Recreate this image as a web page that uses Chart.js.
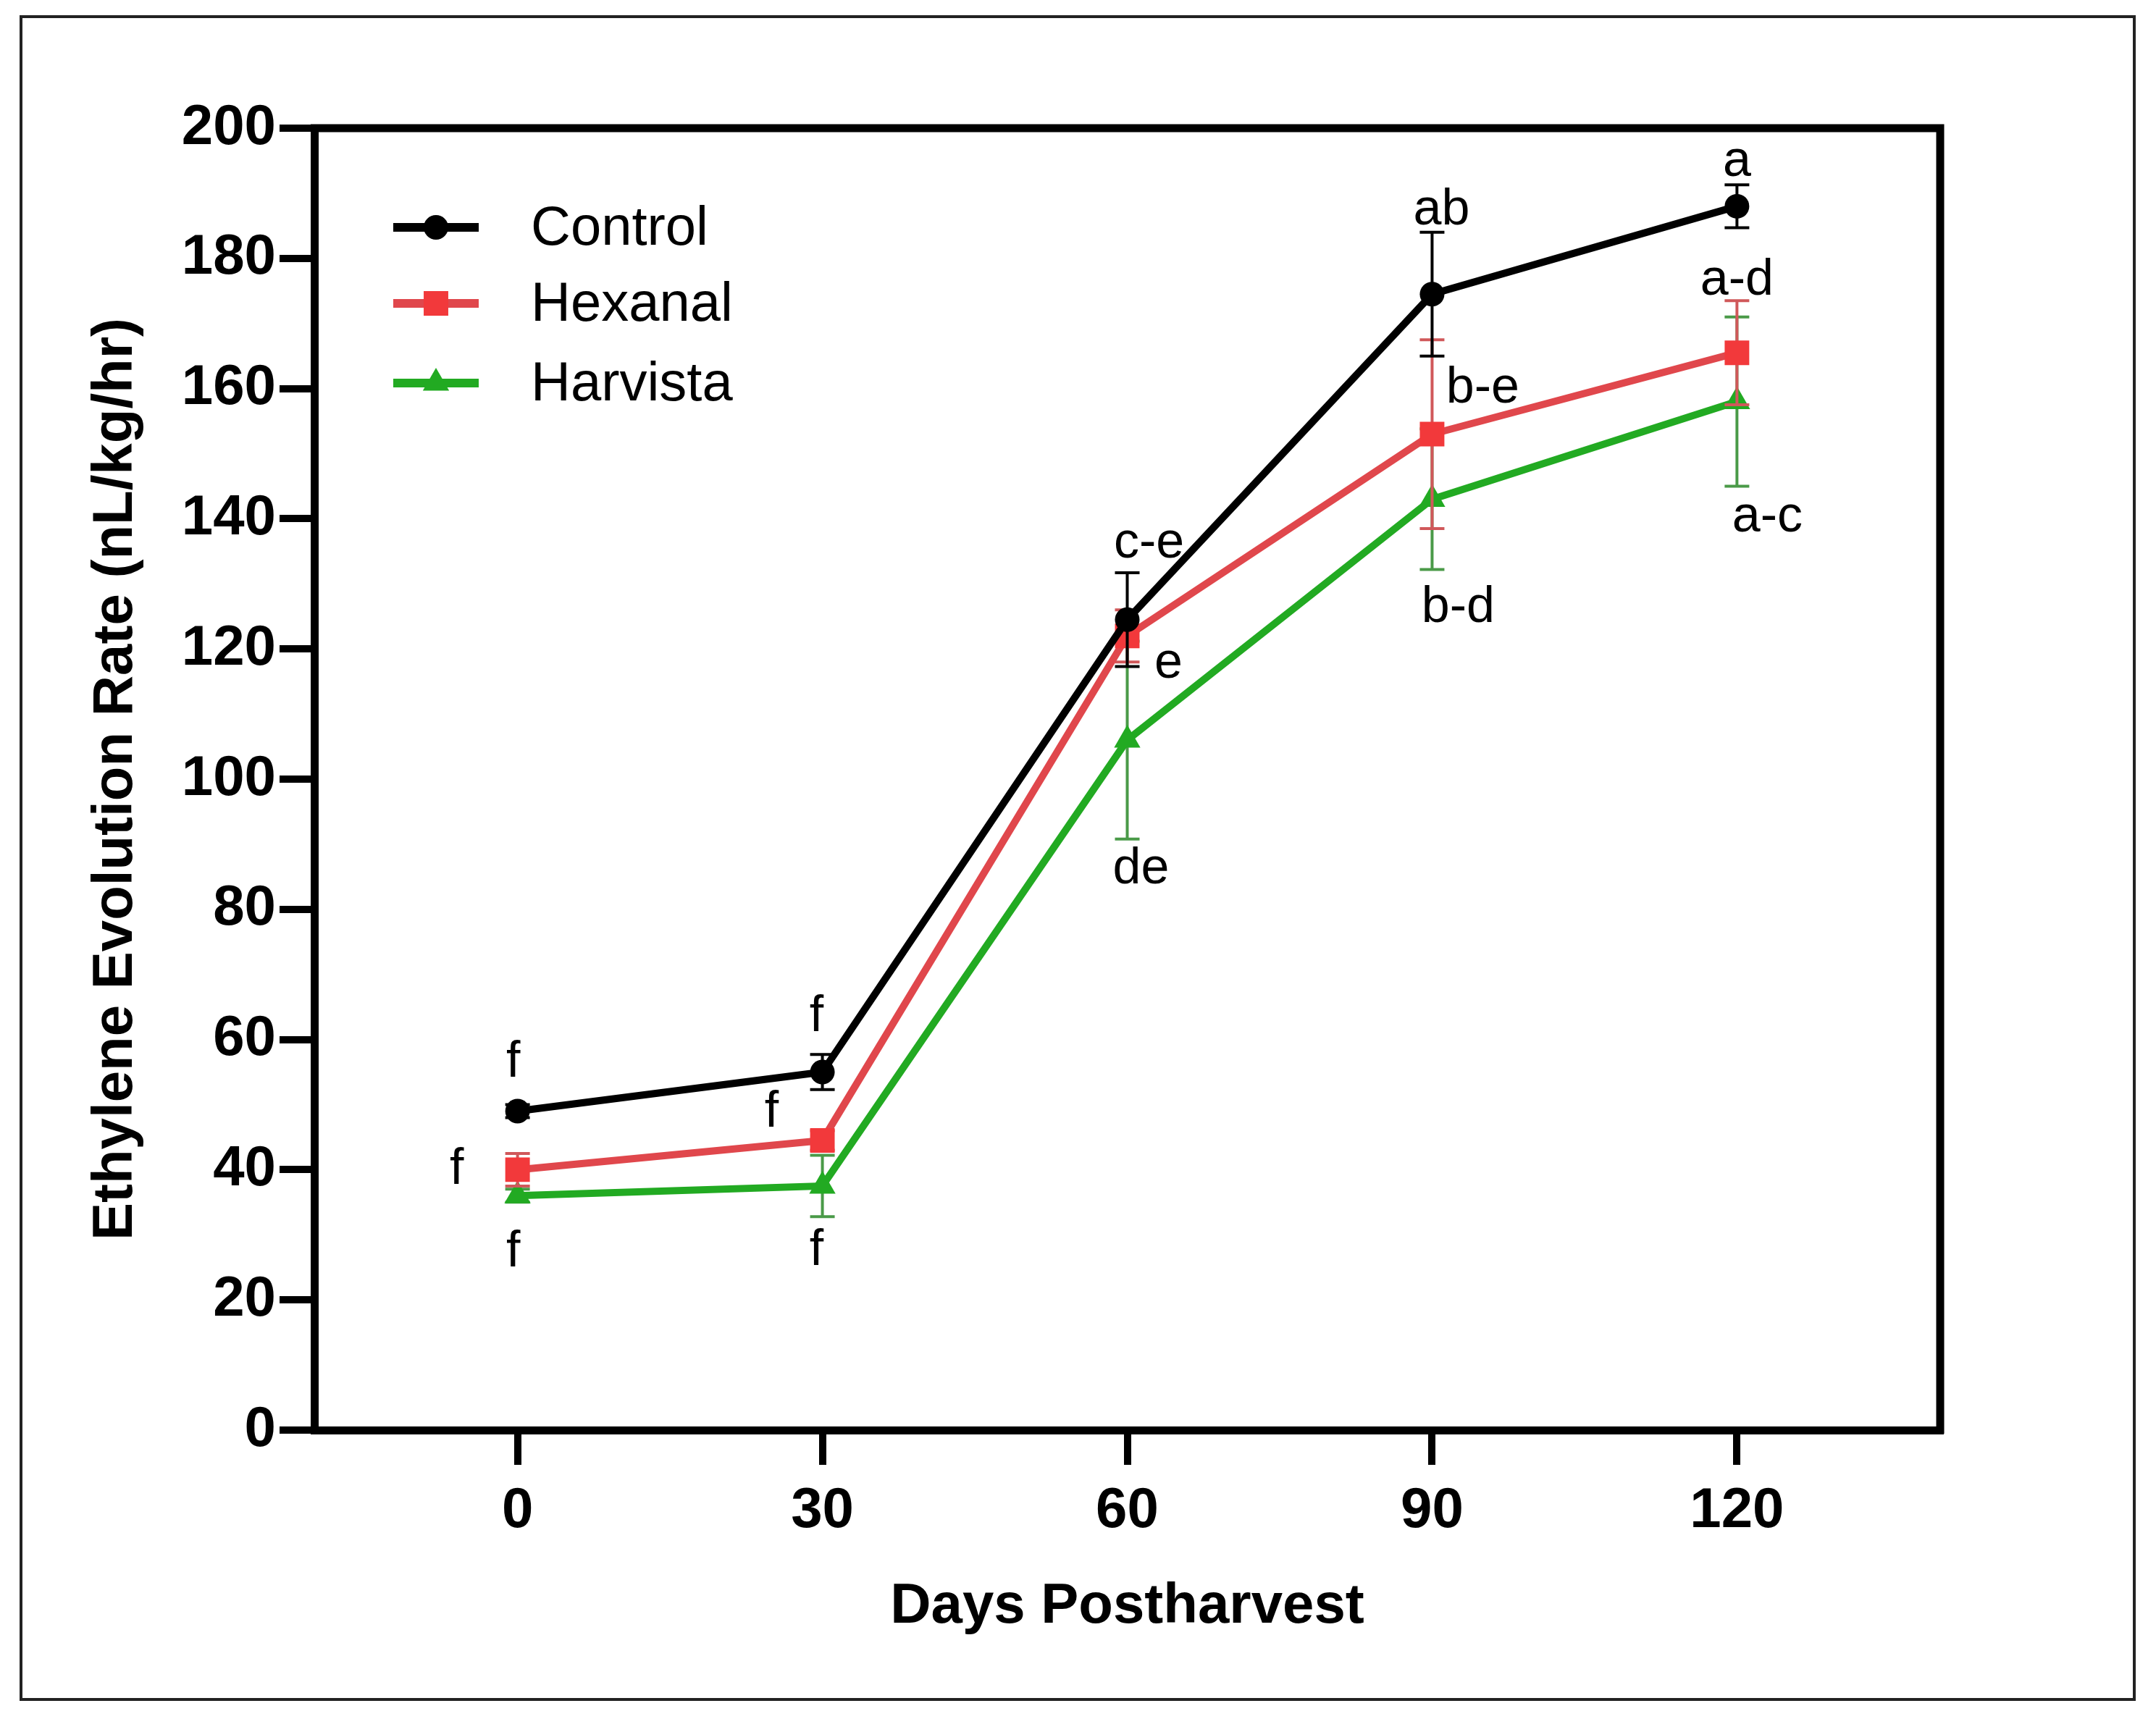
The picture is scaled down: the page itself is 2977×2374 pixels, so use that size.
<!DOCTYPE html>
<html>
<head>
<meta charset="utf-8">
<script src="https://cdn.jsdelivr.net/npm/chart.js@4.4.1/dist/chart.umd.min.js"></script>
<style>
html, body { margin: 0; padding: 0; background: #fff; }
canvas { display: block; }
</style>
</head>
<body>
<canvas id="ethylene-graph" width="2977" height="2374"></canvas>
<script>
const days = [0, 30, 60, 90, 120];
const xTicks = [0, 30, 60, 90, 120];
const seriesNames = ['Control', 'Hexanal', 'Harvista'];
const control = [49, 55, 124.5, 174.5, 188];
const hexanal = [40, 44.5, 122, 153, 165.5];
const harvista = [36, 37.5, 106, 143, 158];
const controlErr = [1, 2.7, 7.2, 9.5, 3.3];
const hexanalErr = [2.5, 1.5, 4, 14.5, 8];
const harvistaErr = [1, 4.7, 15.2, 10.8, 13];
const controlLetters = ['f', 'f', 'c-e', 'ab', 'a'];
const hexanalLetters = ['f', 'f', 'e', 'b-e', 'a-d'];
const harvistaLetters = ['f', 'f', 'de', 'b-d', 'a-c'];

const FONT = "'Liberation Sans', Arial, sans-serif";

const looks = [
    {line: '#000000', point: '#000000', err: '#000000', shape: 'circle', radius: 17},
    {line: '#e0474c', point: '#f2393b', err: '#d0585a', shape: 'rect', radius: 24},
    {line: '#22aa22', point: '#22aa22', err: '#4a9a48', shape: 'triangle', radius: 21}
];

// pixel offsets of the letters from their point
const letterOffsets = [
    [[-6, -67], [-8, -76], [30, -105], [13, -116], [0, -61]],
    [[-84, 0], [-70, -38], [57, 38], [70, -63], [0, -99]],
    [[-6, 78], [-8, 90], [19, 179], [36, 150], [42, 160]]
];

const values = [control, hexanal, harvista];
const errors = [controlErr, hexanalErr, harvistaErr];
const letters = [controlLetters, hexanalLetters, harvistaLetters];

function toPoints(arr) {
    return days.map((d, i) => ({x: d, y: arr[i]}));
}

function marker(ctx, shape, x, y, r, color) {
    ctx.fillStyle = color;
    ctx.beginPath();
    if (shape === 'circle') {
        ctx.arc(x, y, r, 0, Math.PI * 2);
    } else if (shape === 'rect') {
        const s = r * Math.SQRT1_2;
        ctx.rect(x - s, y - s, 2 * s, 2 * s);
    } else {
        ctx.moveTo(x, y - r);
        ctx.lineTo(x + r * 0.866, y + r / 2);
        ctx.lineTo(x - r * 0.866, y + r / 2);
        ctx.closePath();
    }
    ctx.fill();
}

const extras = {
    id: 'extras',
    beforeDraw(chart) {
        const ctx = chart.ctx;
        ctx.save();
        ctx.fillStyle = '#fff';
        ctx.fillRect(0, 0, chart.width, chart.height);
        ctx.strokeStyle = '#222';
        ctx.lineWidth = 4;
        ctx.strokeRect(29, 23, 2918, 2324);
        ctx.restore();
    },
    beforeDatasetDraw(chart, args) {
        const i = args.index;
        const ctx = chart.ctx;
        const xs = chart.scales.x, ys = chart.scales.y;
        ctx.save();
        ctx.strokeStyle = looks[i].err;
        ctx.lineWidth = 4;
        days.forEach((d, j) => {
            const px = xs.getPixelForValue(d);
            const top = ys.getPixelForValue(values[i][j] + errors[i][j]);
            const bot = ys.getPixelForValue(values[i][j] - errors[i][j]);
            ctx.beginPath();
            ctx.moveTo(px, top); ctx.lineTo(px, bot);
            ctx.moveTo(px - 17, top); ctx.lineTo(px + 17, top);
            ctx.moveTo(px - 17, bot); ctx.lineTo(px + 17, bot);
            ctx.stroke();
        });
        ctx.restore();
    },
    afterDraw(chart) {
        const ctx = chart.ctx;
        const a = chart.chartArea;
        const xs = chart.scales.x, ys = chart.scales.y;
        ctx.save();
        // top and right edges of the box
        ctx.strokeStyle = '#000';
        ctx.lineWidth = 11;
        ctx.beginPath();
        ctx.moveTo(a.left - 5, a.top);
        ctx.lineTo(a.right, a.top);
        ctx.lineTo(a.right, a.bottom + 5);
        ctx.stroke();

        // legend
        const rows = [314, 419, 529];
        seriesNames.forEach((name, i) => {
            ctx.strokeStyle = looks[i].line;
            ctx.lineWidth = 12;
            ctx.beginPath();
            ctx.moveTo(543, rows[i]);
            ctx.lineTo(661, rows[i]);
            ctx.stroke();
            marker(ctx, looks[i].shape, 602, rows[i], looks[i].radius, looks[i].point);
            ctx.fillStyle = '#000';
            ctx.font = '76px ' + FONT;
            ctx.textAlign = 'left';
            ctx.textBaseline = 'middle';
            ctx.fillText(name, 733, rows[i] + 3);
        });

        // significance letters
        ctx.fillStyle = '#000';
        ctx.font = '70px ' + FONT;
        ctx.textAlign = 'center';
        ctx.textBaseline = 'middle';
        letters.forEach((row, i) => {
            row.forEach((t, j) => {
                const px = xs.getPixelForValue(days[j]) + letterOffsets[i][j][0];
                const py = ys.getPixelForValue(values[i][j]) + letterOffsets[i][j][1];
                ctx.fillText(t, px, py);
            });
        });
        ctx.restore();
    }
};

const datasets = values.map((arr, i) => ({
    label: seriesNames[i],
    data: toPoints(arr),
    borderColor: looks[i].line,
    borderWidth: 10,
    pointStyle: looks[i].shape,
    pointRadius: looks[i].radius,
    pointBackgroundColor: looks[i].point,
    pointBorderWidth: 0,
    pointHoverRadius: looks[i].radius,
    tension: 0,
    fill: false,
    clip: false
}));

const tickFont = {family: FONT, size: 78, weight: 'bold'};

new Chart(document.getElementById('ethylene-graph'), {
    type: 'line',
    data: {datasets: datasets},
    options: {
        responsive: false,
        devicePixelRatio: 1,
        animation: false,
        layout: {padding: {top: 177, right: 298, left: 0, bottom: 0}},
        plugins: {legend: {display: false}, tooltip: {enabled: false}},
        scales: {
            x: {
                type: 'linear',
                min: -20,
                max: 140,
                afterBuildTicks: s => { s.ticks = xTicks.map(v => ({value: v})); },
                afterFit: s => { s.height = 399; },
                grid: {drawOnChartArea: false, drawTicks: true, tickLength: 48, lineWidth: 10, color: '#000'},
                border: {display: true, width: 11, color: '#000'},
                ticks: {color: '#000', font: tickFont, padding: 18, maxRotation: 0},
                title: {display: true, text: 'Days Postharvest', color: '#000', font: tickFont, padding: {top: 0, bottom: 108}}
            },
            y: {
                min: 0,
                max: 200,
                afterFit: s => { s.width = 434; },
                grid: {drawOnChartArea: false, drawTicks: true, tickLength: 48, lineWidth: 10, color: '#000'},
                border: {display: true, width: 11, color: '#000'},
                ticks: {stepSize: 20, color: '#000', font: tickFont, padding: 5},
                title: {display: true, text: 'Ethylene Evolution Rate (nL/kg/hr)', color: '#000', font: tickFont, padding: {top: 114, bottom: 0}}
            }
        }
    },
    plugins: [extras]
});
</script>
</body>
</html>
